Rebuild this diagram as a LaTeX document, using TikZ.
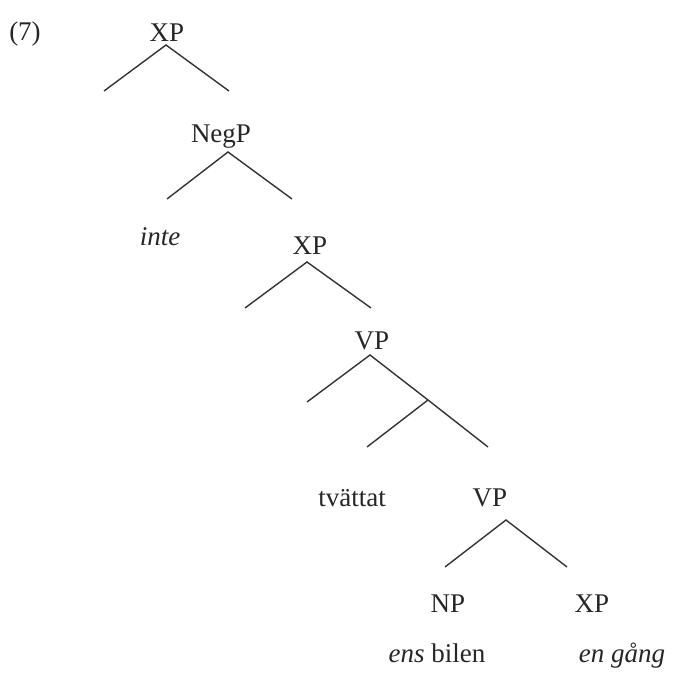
\documentclass[tikz,border=0pt]{standalone}
\usepackage{fontspec}
\setmainfont{Liberation Serif}

\tikzset{
  lbl/.style={font=\fontsize{13.5}{16}\selectfont, text=black!85, anchor=base, inner sep=0pt},
  branch/.style={line width=0.7pt, draw=black!80}
}

\begin{document}
\begin{tikzpicture}[x=0.5pt, y=-0.5pt]
    \useasboundingbox (0,0) rectangle (687,684);
    % labels
    \node[lbl] (num) at (25,41) {(7)};
    \node[lbl] (xpa) at (167,42) {XP};
    \node[lbl] (negp) at (221,143) {NegP};
    \node[lbl] (inte) at (160,246) {\textit{inte}};
    \node[lbl] (xpb) at (310,255) {XP};
    \node[lbl] (vpa) at (372,350) {VP};
    \node[lbl] (tvattat) at (352,507) {tvättat};
    \node[lbl] (vpb) at (490,507) {VP};
    \node[lbl] (np) at (448,613) {NP};
    \node[lbl] (xpc) at (592,613) {XP};
    \node[lbl] (ensbilen) at (437,663) {\textit{ens} bilen};
    \node[lbl] (engang) at (622,663) {\textit{en gång}};
    % branch points
    \coordinate (xpa-top) at (166,45);
    \coordinate (xpa-l) at (104,91);
    \coordinate (xpa-r) at (229,91);
    \coordinate (negp-top) at (228,152);
    \coordinate (negp-l) at (167,199);
    \coordinate (negp-r) at (292,199);
    \coordinate (xpb-top) at (307,262);
    \coordinate (xpb-l) at (245,308);
    \coordinate (xpb-r) at (371,308);
    \coordinate (vpa-top) at (370,355);
    \coordinate (vpa-l) at (307,402);
    \coordinate (vpa-mid) at (428,400);
    \coordinate (vpa-r) at (488,447);
    \coordinate (vpa-ml) at (367,447);
    \coordinate (vpb-top) at (506,520);
    \coordinate (vpb-l) at (445,567);
    \coordinate (vpb-r) at (567,567);
    % branches
    \draw[branch] (xpa-l) -- (xpa-top) -- (xpa-r);
    \draw[branch] (negp-l) -- (negp-top) -- (negp-r);
    \draw[branch] (xpb-l) -- (xpb-top) -- (xpb-r);
    \draw[branch] (vpa-l) -- (vpa-top) -- (vpa-mid) -- (vpa-r);
    \draw[branch] (vpa-ml) -- (vpa-mid);
    \draw[branch] (vpb-l) -- (vpb-top) -- (vpb-r);
\end{tikzpicture}
\end{document}
